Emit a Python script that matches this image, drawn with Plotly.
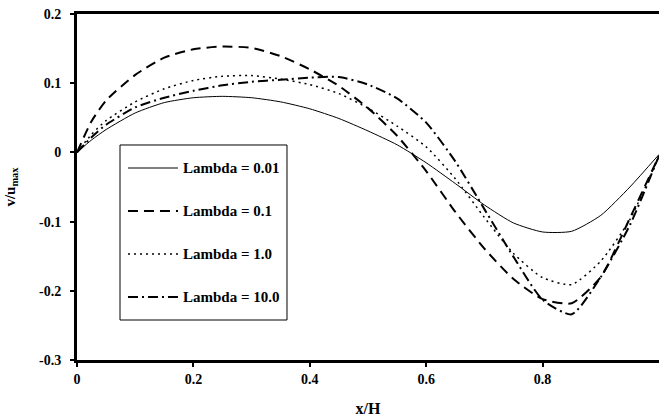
import plotly.graph_objects as go

x_vals = [0, 0.025, 0.05, 0.1, 0.15, 0.2, 0.25, 0.3, 0.35, 0.4, 0.45, 0.5,
          0.55, 0.6, 0.65, 0.7, 0.75, 0.8, 0.85, 0.9, 0.95, 1.0]

lambda_001 = [0, 0.018, 0.033, 0.057, 0.072, 0.079, 0.081, 0.079, 0.073, 0.063, 0.049, 0.031,
              0.011, -0.015, -0.045, -0.076, -0.102, -0.115, -0.114, -0.091, -0.050, -0.003]
lambda_01 = [0, 0.045, 0.075, 0.112, 0.137, 0.149, 0.153, 0.151, 0.139, 0.120, 0.096, 0.064,
             0.024, -0.027, -0.086, -0.139, -0.183, -0.212, -0.218, -0.180, -0.095, -0.005]
lambda_1 = [0, 0.026, 0.046, 0.073, 0.092, 0.104, 0.110, 0.111, 0.106, 0.098, 0.085, 0.064,
            0.038, 0.008, -0.038, -0.094, -0.146, -0.181, -0.191, -0.157, -0.097, -0.005]
lambda_10 = [0, 0.022, 0.040, 0.065, 0.079, 0.089, 0.097, 0.102, 0.105, 0.108, 0.109, 0.098,
             0.078, 0.043, -0.013, -0.082, -0.151, -0.213, -0.234, -0.180, -0.105, -0.005]

series_names = ["Lambda = 0.01", "Lambda = 0.1", "Lambda = 1.0", "Lambda = 10.0"]
series_values = [lambda_001, lambda_01, lambda_1, lambda_10]

x_tick_vals = [0, 0.2, 0.4, 0.6, 0.8]
x_tick_text = ["0", "0.2", "0.4", "0.6", "0.8"]
y_tick_vals = [0.2, 0.1, 0, -0.1, -0.2, -0.3]
y_tick_text = ["0.2", "0.1", "0", "-0.1", "-0.2", "-0.3"]

styles = [
    dict(dash="solid", width=1),
    dict(dash="10px,6px", width=2),
    dict(dash="2px,4px", width=1.5),
    dict(dash="10px,4px,2px,4px", width=2),
]

FONT = "Liberation Serif"

fig = go.Figure()
for name, vals, st in zip(series_names, series_values, styles):
    fig.add_trace(go.Scatter(
        x=x_vals, y=vals, mode="lines", name=name, showlegend=False,
        line=dict(color="black", width=st["width"], dash=st["dash"], shape="spline", smoothing=0.6),
        hoverinfo="skip",
    ))

# manual legend box (paper coordinates)
box_x0, box_x1, box_y0, box_y1 = 0.0739, 0.3608, 0.1156, 0.6214
fig.add_shape(type="rect", xref="paper", yref="paper",
              x0=box_x0, x1=box_x1, y0=box_y0, y1=box_y1,
              line=dict(color="black", width=1), fillcolor="white", layer="above")
row_y = [0.5549, 0.4306, 0.3064, 0.1821]
for name, st, yy in zip(series_names, styles, row_y):
    fig.add_shape(type="line", xref="paper", yref="paper",
                  x0=0.0876, x1=0.1735, y0=yy, y1=yy,
                  line=dict(color="black", width=st["width"], dash=st["dash"]), layer="above")
    fig.add_annotation(xref="paper", yref="paper", x=0.1790, y=yy, text="<b>" + name + "</b>",
                       showarrow=False, xanchor="left", yanchor="middle",
                       font=dict(family=FONT, size=15, color="black"))

fig.update_layout(
    width=660, height=419,
    margin=dict(l=77, r=1, t=14, b=59),
    paper_bgcolor="white", plot_bgcolor="white",
    font=dict(family=FONT, color="black"),
    showlegend=False,
    xaxis=dict(
        range=[0, 1], tickvals=x_tick_vals, ticktext=["<b>" + t + "</b>" for t in x_tick_text],
        showgrid=False, zeroline=False, showline=True, linecolor="black", linewidth=3,
        mirror=True, ticks="outside", ticklen=4, tickwidth=2, tickcolor="black",
        tickfont=dict(family=FONT, size=14, color="black"),
        title=dict(text="<b>x/H</b>", font=dict(family=FONT, size=16, color="black"), standoff=18),
    ),
    yaxis=dict(
        range=[-0.3, 0.2], tickvals=y_tick_vals, ticktext=["<b>" + t + "</b>" for t in y_tick_text],
        showgrid=False, zeroline=False, showline=True, linecolor="black", linewidth=3,
        ticks="outside", ticklen=4, tickwidth=2, tickcolor="black", ticklabelstandoff=6,
        tickfont=dict(family=FONT, size=14, color="black"),
        title=dict(text="<b>v/u<sub>max</sub></b>", font=dict(family=FONT, size=15, color="black"), standoff=20),
    ),
)

fig.write_html("out.html", config={"displayModeBar": False},
               post_script="document.body.style.margin='0';")
